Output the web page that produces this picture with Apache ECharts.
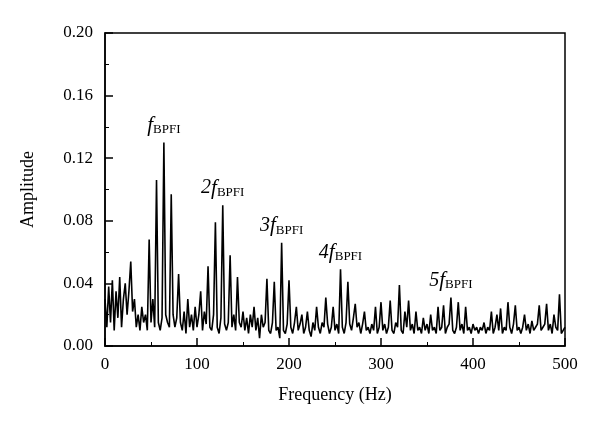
<!DOCTYPE html><html><head><meta charset="utf-8"><script src="https://cdn.jsdelivr.net/npm/echarts@6/dist/echarts.min.js"></script></head><body style="margin:0"><div id="c" style="width:600px;height:436px"></div><script>
const freqStepHz = 2;
const amplitudeMilli = [
30,12,38,15,42,10,35,18,44,12,30,40,20,35,54,22,30,12,20,10,25,15,20,10,68,
15,30,12,106,15,10,18,130,20,15,12,97,20,12,18,46,15,10,22,8,30,12,20,10,25,
12,20,35,10,22,14,51,12,10,20,79,12,8,18,90,14,10,15,58,12,20,10,44,15,12,
22,10,18,8,20,12,25,10,18,5,20,12,15,43,10,8,15,41,10,12,5,66,10,8,14,
42,12,8,15,25,10,14,20,8,12,22,10,6,15,10,25,12,8,15,12,31,14,8,12,25,
10,14,8,49,12,8,15,41,14,10,18,27,12,15,8,14,22,10,12,8,14,10,25,8,12,
28,10,14,8,12,29,10,8,15,12,39,10,8,22,12,29,10,14,8,22,10,12,8,18,10,
14,8,20,10,12,8,25,10,12,26,8,12,14,31,10,8,12,28,10,14,8,25,10,12,8,
14,10,12,8,12,10,15,8,12,10,22,8,12,20,10,24,8,12,10,28,12,8,14,26,10,
12,8,12,20,10,14,8,16,10,12,14,26,10,12,14,27,10,14,8,20,12,10,33,8,10,
12];
const harmonicLabels = ['','2','3','4','5'];
const harmonicPeaks = [[64,0.130],[128,0.090],[192,0.066],[256,0.049],[376,0.031]];
const data = amplitudeMilli.map((v,i)=>[i*freqStepHz, v/1000]);
const F = 'Liberation Serif';
const chart = echarts.init(document.getElementById('c'));
chart.setOption({
  animation:false,
  grid:{left:105,right:35,top:33,bottom:90},
  xAxis:{type:'value',min:0,max:500,interval:100,name:'Frequency (Hz)',nameLocation:'middle',nameGap:40,
    nameTextStyle:{fontFamily:F,fontSize:18,color:'#000'},
    axisLine:{onZero:false,lineStyle:{color:'#000',width:1.5}},
    axisTick:{inside:true,length:8,lineStyle:{color:'#000',width:1.5}},
    minorTick:{show:true,splitNumber:2,length:4,lineStyle:{color:'#000'}},
    axisLabel:{fontFamily:F,fontSize:17,color:'#000',margin:10},splitLine:{show:false}},
  yAxis:{type:'value',min:0,max:0.2,interval:0.04,name:'Amplitude',nameLocation:'middle',nameGap:68,
    nameTextStyle:{fontFamily:F,fontSize:18,color:'#000'},
    axisLine:{lineStyle:{color:'#000',width:1.5}},
    axisTick:{inside:true,length:8,lineStyle:{color:'#000',width:1.5}},
    minorTick:{show:true,splitNumber:2,length:4,lineStyle:{color:'#000'}},
    axisLabel:{fontFamily:F,fontSize:17,color:'#000',margin:12,formatter:v=>v.toFixed(2)},splitLine:{show:false}},
  series:[{type:'line',data,symbol:'none',lineStyle:{color:'#000',width:1.6},
    markPoint:{symbol:'circle',symbolSize:0,
      data:harmonicPeaks.map((p,i)=>({coord:p,label:{show:true,position:'top',distance:6,
        formatter:'{n|'+harmonicLabels[i]+'}{f|f}{s|BPFI}',
        rich:{n:{fontFamily:F,fontStyle:'italic',fontSize:20,color:'#000'},f:{fontFamily:F,fontStyle:'italic',fontSize:21,color:'#000'},
          s:{fontFamily:F,fontSize:13,color:'#000',verticalAlign:'bottom',padding:[9,0,0,0]}}}}))}}],
  graphic:[{type:'rect',shape:{x:105,y:33,width:460,height:313},style:{fill:'none',stroke:'#000',lineWidth:1.5},silent:true}]
});
</script></body></html>
